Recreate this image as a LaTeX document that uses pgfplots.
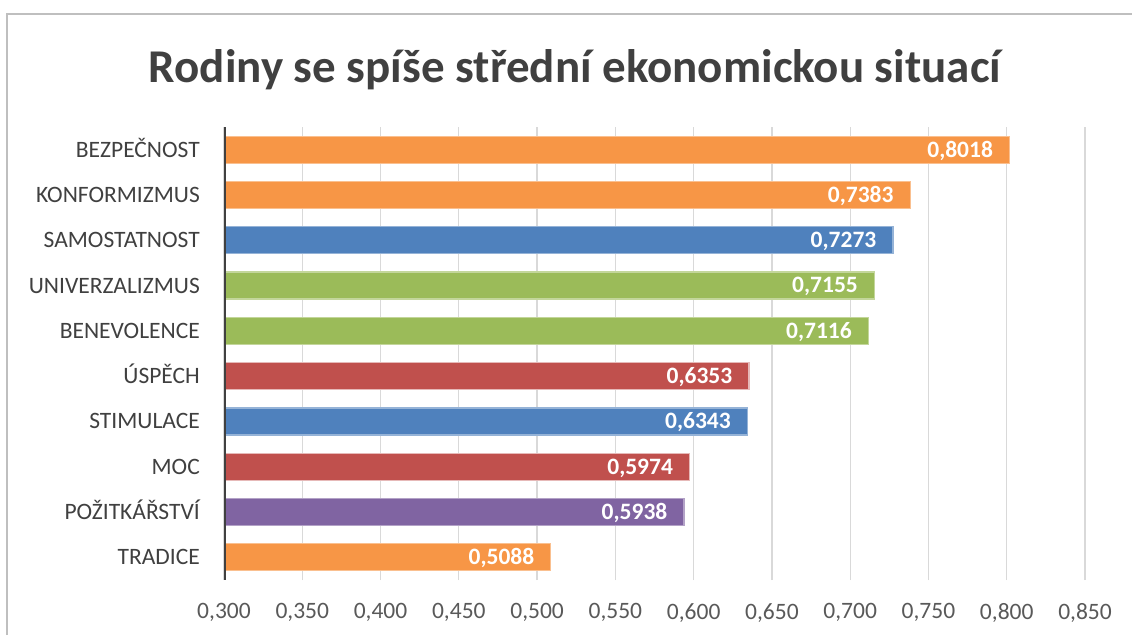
\documentclass[border=0pt]{standalone}
\usepackage{pgfplots}
\pgfplotsset{compat=1.18}
\usepackage{fontspec}
\setmainfont{Carlito}
\definecolor{cOr}{HTML}{F79646}
\definecolor{cOrL}{HTML}{FAC090}
\definecolor{cBl}{HTML}{4F81BD}
\definecolor{cBlL}{HTML}{95B3D7}
\definecolor{cGr}{HTML}{9BBB59}
\definecolor{cGrL}{HTML}{C3D69B}
\definecolor{cRd}{HTML}{C0504D}
\definecolor{cRdL}{HTML}{E6B9B8}
\definecolor{cPu}{HTML}{8064A2}
\definecolor{cPuL}{HTML}{B3A2C7}
\definecolor{txt}{HTML}{404040}
\definecolor{tick}{HTML}{595959}
\definecolor{grd}{HTML}{D9D9D9}
\definecolor{frm}{HTML}{BFBFBF}
\begin{document}
\begin{tikzpicture}
\begin{axis}[
  at={(224pt,-127pt)}, anchor=north west,
  scale only axis, width=861pt, height=453pt,
  xbar, bar width=27pt, bar shift=0pt,
  xmin=0.3, xmax=0.85, ymin=-0.5, ymax=9.5,
  axis line style={draw=none},
  xtick={0.3,0.35,0.4,0.45,0.5,0.55,0.6,0.65,0.7,0.75,0.8,0.85},
  ytick={0,1,2,3,4,5,6,7,8,9},
  yticklabels={TRADICE,POŽITKÁŘSTVÍ,MOC,STIMULACE,ÚSPĚCH,BENEVOLENCE,UNIVERZALIZMUS,SAMOSTATNOST,KONFORMIZMUS,BEZPEČNOST},
  major tick length=0pt, tick style={draw=none},
  xmajorgrids, grid style={draw=grd, line width=1.3pt},
  xticklabel={\pgfmathprintnumber[fixed, fixed zerofill, precision=3, use comma, assume math mode=true]{\tick}},
  xticklabel style={font=\fontsize{23.5}{26}\selectfont, text=tick, inner sep=0pt, anchor=north, yshift=-23pt},
  yticklabel style={font=\fontsize{23.5}{26}\selectfont, text=txt, inner sep=0pt, anchor=base east, xshift=-24pt, yshift=-7.5pt},
  point meta=explicit symbolic,
  nodes near coords,
  every node near coord/.append style={anchor=base east, inner sep=0pt, xshift=-16pt, yshift=-7.4pt, font=\fontsize{23.5}{26}\selectfont\bfseries, text=white},
]
\addplot[fill=cOr, draw=cOrL, line width=1.2pt] coordinates {(0.8018,9) [0,8018] (0.7383,8) [0,7383] (0.5088,0) [0,5088]};
\addplot[fill=cBl, draw=cBlL, line width=1.2pt] coordinates {(0.7273,7) [0,7273] (0.6343,3) [0,6343]};
\addplot[fill=cGr, draw=cGrL, line width=1.2pt] coordinates {(0.7155,6) [0,7155] (0.7116,5) [0,7116]};
\addplot[fill=cRd, draw=cRdL, line width=1.2pt] coordinates {(0.6353,4) [0,6353] (0.5974,2) [0,5974]};
\addplot[fill=cPu, draw=cPuL, line width=1.2pt] coordinates {(0.5938,1) [0,5938]};
\draw[txt, line width=3pt] (axis cs:0.3,-0.5) -- (axis cs:0.3,9.5);
\end{axis}
\draw[frm, line width=1.5pt] (7pt,-635pt) -- (7pt,-14pt) -- (1132pt,-14pt);
\node[anchor=base, inner sep=0pt, font=\fontsize{47}{52}\selectfont\bfseries, text=txt] at (575pt,-82pt) {Rodiny se spíše střední ekonomickou situací};
\pgfresetboundingbox
\path[use as bounding box] (0,0) rectangle (1132pt,-635pt);
\end{tikzpicture}
\end{document}
